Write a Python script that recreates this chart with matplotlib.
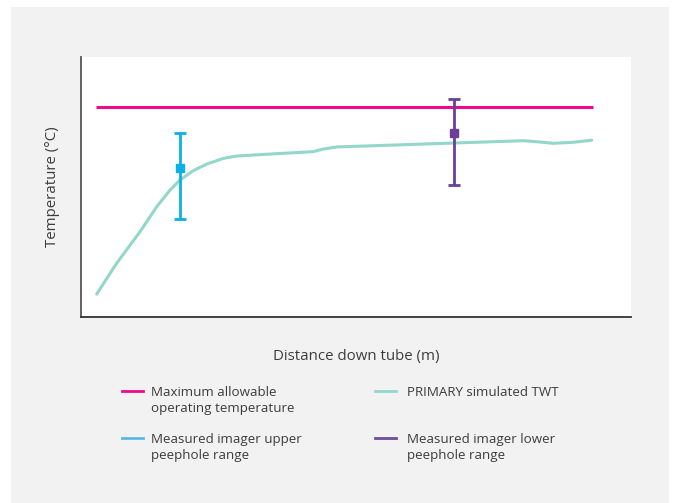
import matplotlib.pyplot as plt
from matplotlib.lines import Line2D
from matplotlib.patches import Rectangle

plt.rcParams['font.family'] = ['Open Sans', 'DejaVu Sans']

# values (arbitrary units, no scale shown)
max_temp_x = [2.7, 93.1]
max_temp_y = [80.7, 80.7]

twt_x = [2.85, 6.49, 10.73, 13.76, 16.18, 18.0, 20.42, 22.85, 25.87, 28.31,
         33.76, 42.24, 44.05, 46.49, 50.73, 67.6, 80.4, 83.5, 85.9, 89.5,
         92.85]
twt_y = [8.8, 20.7, 32.8, 42.4, 48.8, 52.7, 56.3, 58.8, 61.0, 61.9,
         62.6, 63.6, 64.6, 65.4, 65.7, 66.9, 67.8, 67.3, 66.8, 67.2,
         68.0]

upper_x = [18.0]
upper_mid = [57.3]
upper_lo = [37.7]
upper_hi = [70.9]

lower_x = [67.9]
lower_mid = [70.7]
lower_lo = [50.8]
lower_hi = [83.8]

PINK = '#ec0b8c'
TEAL = '#93d6ca'
BLUE = '#0bb0e6'
PURPLE = '#6a3f99'
TXT = '#3c3c3c'

fig = plt.figure(figsize=(6.73, 5.03), dpi=100)
fig.patch.set_facecolor('white')
fig.patches.append(Rectangle((11 / 673, 0), 658 / 673, 496 / 503,
                             transform=fig.transFigure, facecolor='#f2f2f2',
                             edgecolor='none', zorder=-10))

ax = fig.add_axes([81 / 673, 186 / 503, 550 / 673, 260 / 503])
ax.set_facecolor('white')
ax.set_xlim(0, 100)
ax.set_ylim(0, 100)
ax.set_xticks([])
ax.set_yticks([])
for s in ['top', 'right']:
    ax.spines[s].set_visible(False)
ax.spines['left'].set_color('#555555')
ax.spines['bottom'].set_color('#333333')
ax.spines['left'].set_linewidth(1.3)
ax.spines['bottom'].set_linewidth(1.3)

ax.plot(max_temp_x, max_temp_y, color=PINK, lw=2.2, solid_capstyle='butt')
ax.plot(twt_x, twt_y, color=TEAL, lw=2.2, solid_capstyle='round',
        solid_joinstyle='round')

ax.errorbar(upper_x, upper_mid,
            yerr=[[m - l for m, l in zip(upper_mid, upper_lo)],
                  [h - m for h, m in zip(upper_hi, upper_mid)]],
            fmt='s', color=BLUE, ms=6, elinewidth=2, capsize=4, capthick=2)
ax.errorbar(lower_x, lower_mid,
            yerr=[[m - l for m, l in zip(lower_mid, lower_lo)],
                  [h - m for h, m in zip(lower_hi, lower_mid)]],
            fmt='s', color=PURPLE, ms=6, elinewidth=2, capsize=4, capthick=2)

ax.set_ylabel('Temperature (°C)', color=TXT, fontsize=10.8, labelpad=15)
ax.set_xlabel('Distance down tube (m)', color=TXT, fontsize=10.8, labelpad=23)

# legend, drawn by hand in pixel positions
def fx(px):
    return px / 673

def fy(py):
    return 1 - py / 503

legend_items = [
    (PINK, 'Maximum allowable\noperating temperature', 122, 151, 391),
    (TEAL, 'PRIMARY simulated TWT', 375, 407, 391),
    ('#5ab8e6', 'Measured imager upper\npeephole range', 122, 151, 438),
    ('#6b4c9e', 'Measured imager lower\npeephole range', 375, 407, 438),
]
for col, label, lx, tx, ly in legend_items:
    fig.lines.append(Line2D([fx(lx), fx(lx + 21)], [fy(ly), fy(ly)],
                            transform=fig.transFigure, color=col, lw=2))
    fig.text(fx(tx), fy(ly - 5), label, color=TXT, fontsize=9.6,
             va='top', ha='left', linespacing=1.3)

fig.savefig('out.png', dpi=100)
